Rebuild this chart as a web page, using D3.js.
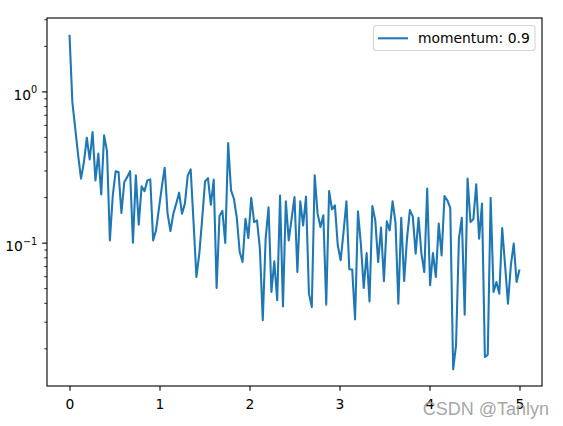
<!DOCTYPE html>
<html><head><meta charset="utf-8">
<script src="https://cdn.jsdelivr.net/npm/d3@7"></script>
<style>body{margin:0;background:#fff} svg{display:block}</style>
</head><body>
<svg id="c" width="563" height="426"></svg>
<script>
// ---- data ----
const seriesLabel = "momentum: 0.9";
const epochs = 5;
const lossValues = [
  2.370, 0.846, 0.567, 0.378, 0.265, 0.341, 0.494, 0.355, 0.538, 0.258,
  0.388, 0.208, 0.512, 0.403, 0.1035, 0.205, 0.296, 0.293, 0.157, 0.2515,
  0.271, 0.297, 0.100, 0.2785, 0.1315, 0.2356, 0.219, 0.258, 0.262, 0.1035,
  0.1206, 0.168, 0.233, 0.313, 0.1555, 0.1193, 0.1555, 0.181, 0.214, 0.1555,
  0.181, 0.2785, 0.305, 0.1368, 0.0593, 0.0846, 0.144, 0.254, 0.267, 0.178,
  0.261, 0.0501, 0.150, 0.162, 0.0994, 0.455, 0.2216, 0.195, 0.146, 0.0867,
  0.0744, 0.144, 0.1072, 0.198, 0.1368, 0.1404, 0.0913, 0.0307, 0.1063, 0.171,
  0.0472, 0.0752, 0.0416, 0.205, 0.0379, 0.1875, 0.1035, 0.144, 0.200, 0.0639,
  0.1875, 0.130, 0.202, 0.046, 0.0375, 0.2785, 0.1555, 0.1268, 0.1515, 0.0389,
  0.219, 0.166, 0.1764, 0.096, 0.0764, 0.1175, 0.1875, 0.0666, 0.0665, 0.0311,
  0.161, 0.0985, 0.0501, 0.0854, 0.0409, 0.1745, 0.1404, 0.0744, 0.1257, 0.0555,
  0.1383, 0.1206, 0.1875, 0.1368, 0.0395, 0.146, 0.0557, 0.1063, 0.164, 0.149,
  0.0846, 0.146, 0.0846, 0.0639, 0.2275, 0.0522, 0.0854, 0.0593, 0.1335, 0.0824,
  0.203, 0.190, 0.170, 0.01454, 0.02096, 0.1063, 0.146, 0.0334, 0.265, 0.1368,
  0.1426, 0.243, 0.1063, 0.181, 0.01753, 0.01818, 0.198, 0.0472, 0.0549, 0.046,
  0.1249, 0.0708, 0.0395, 0.0708, 0.0985, 0.0549, 0.0665
];
const xTicks = [0, 1, 2, 3, 4, 5];
const xTickLabels = ["0", "1", "2", "3", "4", "5"];
const yMajorTicks = [0.1, 1];
const yMajorLabels = [["10", "\u22121"], ["10", "0"]];
const yMinorTicks = [0.02,0.03,0.04,0.05,0.06,0.07,0.08,0.09,0.2,0.3,0.4,0.5,0.6,0.7,0.8,0.9,2,3];
const watermark = "CSDN @Tanlyn";

// ---- layout ----
const L = 47, R = 542, T = 18, B = 386;
const fs = 13.89;
const svg = d3.select("#c");

const n = lossValues.length;
const pts = lossValues.map((v, i) => ({x: i * epochs / (n - 1), y: v}));

const xExt = d3.extent(pts, d => d.x);
const xPad = 0.05 * (xExt[1] - xExt[0]);
const x = d3.scaleLinear().domain([xExt[0] - xPad, xExt[1] + xPad]).range([L, R]);

const lo = Math.log10(d3.min(lossValues)), hi = Math.log10(d3.max(lossValues));
const yPad = 0.05 * (hi - lo);
const y = d3.scaleLog().domain([Math.pow(10, lo - yPad), Math.pow(10, hi + yPad)]).range([B, T]);

// line
svg.append("path")
  .datum(pts)
  .attr("fill", "none")
  .attr("stroke", "#1f77b4")
  .attr("stroke-width", 2.08)
  .attr("stroke-linejoin", "round")
  .attr("d", d3.line().x(d => x(d.x)).y(d => y(d.y)));

// frame
svg.append("rect")
  .attr("x", L).attr("y", T).attr("width", R - L).attr("height", B - T)
  .attr("fill", "none").attr("stroke", "#000").attr("stroke-width", 1.1);

// x axis
const gx = svg.append("g").attr("transform", `translate(0,${B})`)
  .call(d3.axisBottom(x).tickValues(xTicks).tickSize(4.86).tickPadding(4.86)
    .tickFormat((d, i) => xTickLabels[i]));
gx.select(".domain").remove();
gx.selectAll("line").attr("stroke", "#000").attr("stroke-width", 1.1);
gx.selectAll("text").attr("font-family", "DejaVu Sans").attr("font-size", fs)
  .attr("fill", "#000").attr("dy", null).attr("y", 23.3);

// y minor ticks
const gym = svg.append("g").attr("transform", `translate(${L},0)`)
  .call(d3.axisLeft(y).tickValues(yMinorTicks.filter(v => v >= y.domain()[0] && v <= y.domain()[1]))
    .tickSize(2.78).tickFormat(""));
gym.select(".domain").remove();
gym.selectAll("line").attr("stroke", "#000").attr("stroke-width", 0.83);

// y major ticks
const gy = svg.append("g").attr("transform", `translate(${L},0)`)
  .call(d3.axisLeft(y).tickValues(yMajorTicks).tickSize(4.86).tickPadding(4.86).tickFormat(""));
gy.select(".domain").remove();
gy.selectAll("line").attr("stroke", "#000").attr("stroke-width", 1.1);
gy.selectAll(".tick text").each(function(d, i) {
  const t = d3.select(this).text(null)
    .attr("font-family", "DejaVu Sans").attr("font-size", fs).attr("fill", "#000")
    .attr("dy", null).attr("y", 7.6).attr("text-anchor", "end");
  const lab = yMajorLabels[i];
  t.append("tspan").text(lab[0]);
  t.append("tspan").attr("font-size", fs * 0.7).attr("dy", -6.2).text(lab[1]);
});

// legend
const lg = svg.append("g");
lg.append("rect").attr("x", 373.5).attr("y", 25.5).attr("width", 161.5).attr("height", 25)
  .attr("rx", 2.8).attr("fill", "#fff").attr("fill-opacity", 0.8)
  .attr("stroke", "#cccccc").attr("stroke-opacity", 0.8).attr("stroke-width", 1.1);
lg.append("line").attr("x1", 379).attr("x2", 407).attr("y1", 38.3).attr("y2", 38.3)
  .attr("stroke", "#1f77b4").attr("stroke-width", 2.08).attr("stroke-linecap", "square");
lg.append("text").attr("x", 418).attr("y", 43.2)
  .attr("font-family", "DejaVu Sans").attr("font-size", fs).attr("fill", "#000")
  .text(seriesLabel);

// watermark
svg.append("text").attr("x", 549).attr("y", 415).attr("text-anchor", "end")
  .attr("font-family", "Liberation Sans").attr("font-size", 18)
  .attr("fill", "#9a9a9a").attr("fill-opacity", 0.9)
  .text(watermark);
</script>
</body></html>
